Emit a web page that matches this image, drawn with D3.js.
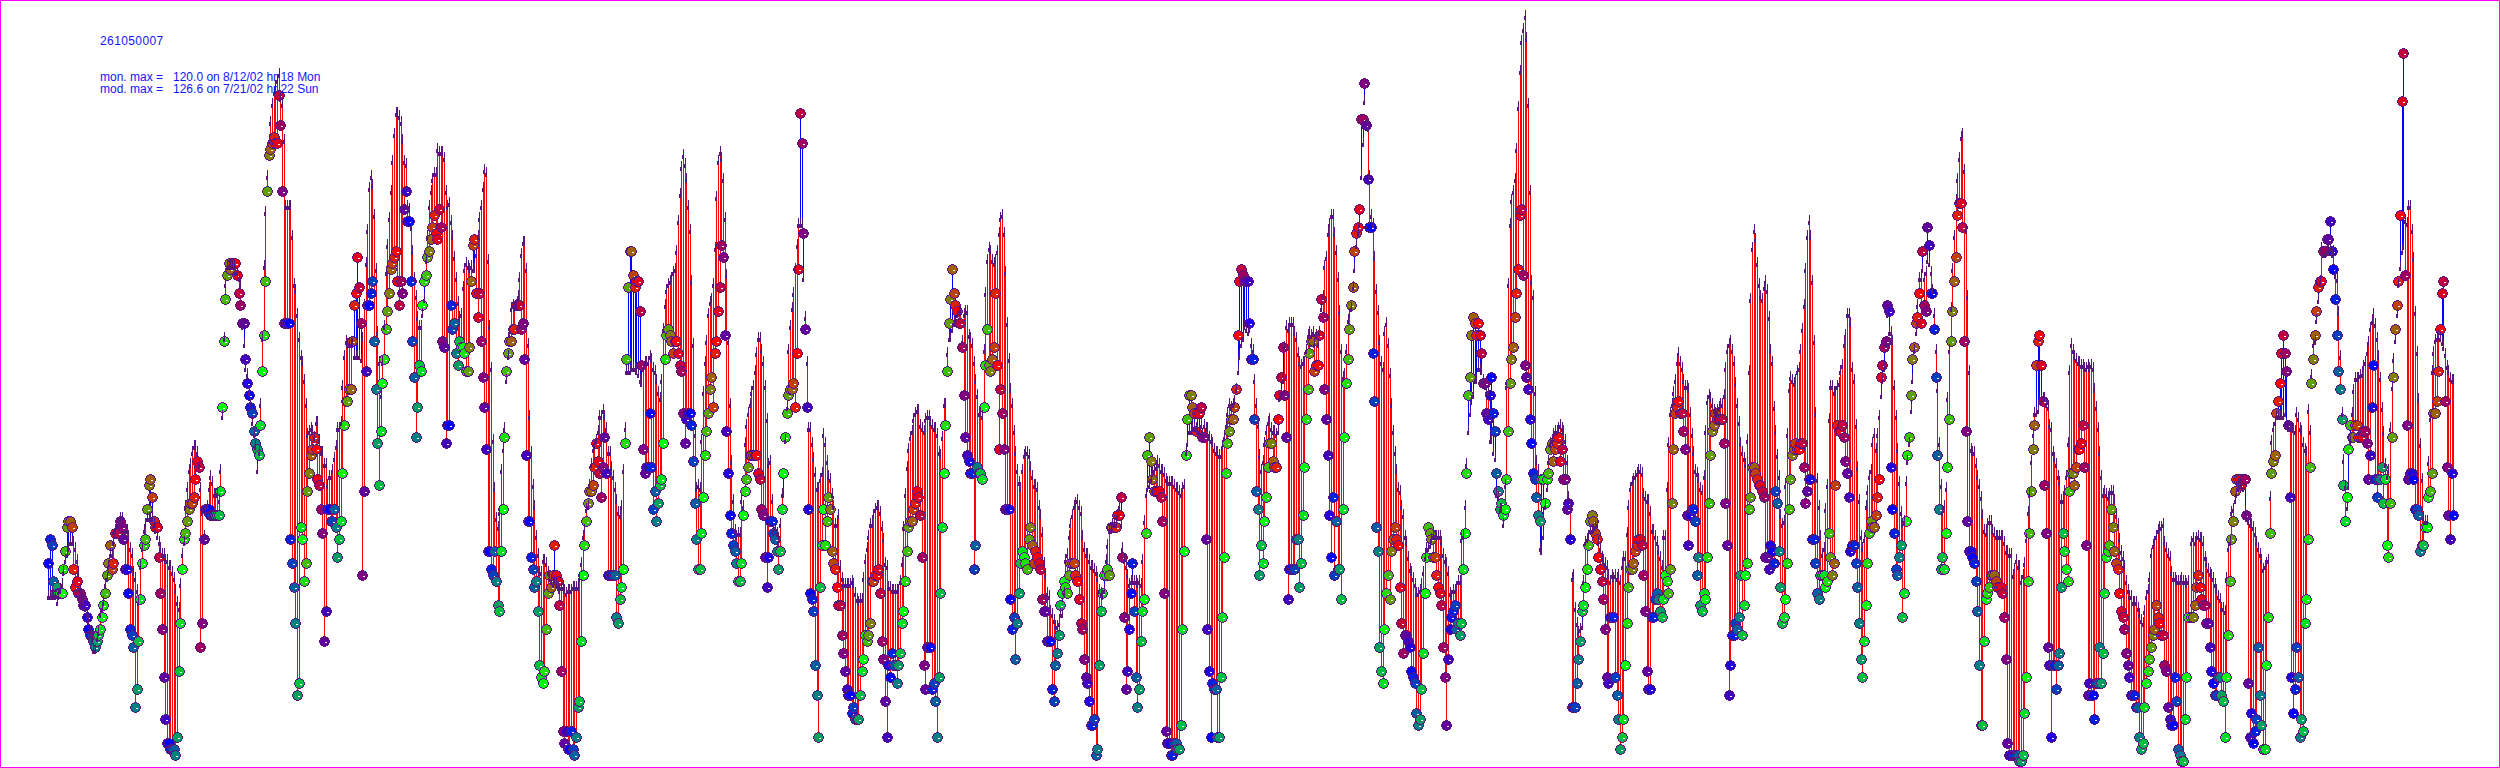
<!DOCTYPE html>
<html>
<head>
<meta charset="utf-8">
<title>261050007</title>
<script src="https://cdn.jsdelivr.net/npm/d3@7"></script>
<style>
  body { margin: 0; background: #fff; }
  svg { display: block; }
  text { font-family: "Liberation Sans", Arial, sans-serif; fill: #1414ff; white-space: pre; }
</style>
</head>
<body>
<svg id="chart" width="2500" height="768"></svg>
<script>
const stationId = '261050007'
const monMaxLabel = 'mon. max =   120.0 on 8/12/02 hr 18 Mon'
const modMaxLabel = 'mod. max =   126.6 on 7/21/02 hr 22 Sun'

// hourly ozone (ppb), one pair of lists per stretch of the season
const firstHour = 2
const stretchStart = [0, 151, 313, 474, 636, 797, 959, 1121, 1283]

const modeled1 = [
  30,30,30,30,30,29,30,31,32,34, 36,37,38,39,39,39,38,36,34,31,
  30,29,28,27,26,24,23,21,21,23, 24,27,28,29,32,33,35,37,37,39,
  41,42,42,43,43,42,41,41,40,38, 37,34,33,31,29,35,38,41,42,43,
  43,43,43,42,41,40,39,38,37,37, 36,36,35,35,34,33,31,29,28,32,
  37,39,45,48,51,52,54,55,55,54, 52,48,44,40,44,45,48,50,49,47,
  47,47,46,51,60,73,82,85,85,85, 85,85,84,84,83,82,75,72,68,67,
  64,62,59,57,55,51,54,62,73,85, 94,100,106,109,112,114,115,116,117,113,
  112,106,95,95,95,95,90,82,81,77, 73
]
const observed1 = [
  35,39,38,32,30,31,30,30,30,34, 37,41,42,42,41,34,31,32,30,30,
  29,28,28,26,24,23,23,22,21,22, 23,24,26,28,30,33,35,38,34,35,
  40,40,40,42,41,39,34,34,30,24, 23,21,11,14,22,29,35,38,39,44,
  48,49,46,42,41,41,36,30,24,16, 9,5,5,4,4,4,3,6,17,25,
  34,39,40,42,44,45,45,46,49,52, 51,21,25,39,44,44,44,43,43,43,
  43,43,43,47,61,72,79,83,85,84, 85,85,85,83,80,78,75,75,69,65,
  63,61,60,57,55,54,53,58,67,73, 82,97,103,104,105,106,105,105,113,108,
  97,75,75,75,75,39,35,31,25,13, 15
]

const modeled2 = [
  70,69,66,62,57,57.5,58,57.5,56.5,59, 59,56,54,54,52,52,48.5,50,50,51,
  53,55,58,58,59,65,70,72.5,72,72, 72,72,70,70,70,70,69.5,73,78.5,85.5,
  91,98,100,98.5,93.5,84.5,74,69,63.5,69, 75,84,88.5,93,97.5,102.5,107,110.5,110.5,110,
  109,106,102.5,102,95,94.5,91.5,87.5,83,80, 76.5,75,75,77,79.5,86,90,95,97.5,99.5,
  100.5,100.5,104.5,104,104,104,103,97.5,95,95.5, 92.5,90,86.5,83,79,76.5,77,81.5,84.5,85.5,
  85,84.5,85,84.5,84.5,87,90,93,95,98, 101,100.5,86,75,68,56,48,43,41.5,44,
  51,54.5,58,66,70,74,78,78.5,78,78.5, 80,83,87,89,89,84.5,72,60,54,48.5,
  45,40,37,34,34,36,36,35.5,34,33, 32.5,32,32.5,32,31.5,31,31.5,31.5,31,30.5,
  31,31
]
const observed2 = [
  41,39,32,35,47,50,53,54,56,54, 49,48,44,40,22,27,44,44,42,42,
  44,41,36,39,42,50,58,62,62,64, 64,72,78,80,86,81,75,33,47,67,
  78,78,80,82,72,64,55,48,57,65, 69,74,77,80,84,85,86,87,82,78,
  82,80,94,97,92,92,82,72,66,56, 61,68,67,78,82,83,86,87,89,91,
  93,90,89,94,91,72,71,55,58,58, 78,74,75,70,68,72,71,71,70,67,
  67,71,82,88,89,80,76,80,72,66, 61,54,37,37,34,33,37,32,28,27,
  37,44,56,67,70,72,72,74,74,78, 78,78,74,75,69,53,42,42,36,34,
  31,32,27,18,16,15,17,24,30,33, 31,33,38,33,32,28,17,7,5,7,
  4,4
]

const modeled3 = [
  31,31.5,31.5,31.5,31.5,33,35.5,40,41,44.5, 45,48.5,52,54.5,55,56,57.5,60,60,61,
  60,58,54,54,51.5,50,48,46,44,43.5, 45,51,58,67.5,67.5,67.5,68,68,68,67.5,
  67,66,65.5,68,69,69,69,70,69.5,68, 67.5,66,64,63,66,74.5,78.5,81,82,82.5,
  83,84,84.5,87.5,92.5,97,101.5,103.5,102,99.5, 95,91,82.5,72,57,48,48.5,48,56,64,
  69,72.5,77,79,79.5,82,88,96.5,102.5,104, 103,99.5,93,83.5,72.5,62,52.5,46,41,40,
  40.5,40.5,46,45,55.5,58.5,60.5,62,64,65, 67.5,70.5,73,73,71,69,65,59.5,52,52.5,
  46,41,41.5,40.5,39,42,47,47,56,61.5, 71,75,78,80.5,84.5,88.5,92,92,92,83,
  76.5,69,58,58,55.5,53,50.5,48,48,49.5, 50.5,57,55.5,52.5,50,49.5,47,45,42,42,
  43.5
]
const observed3 = [
  7,4,3,6,11,12,22,33,38,42, 45,47,47,48,51,55,52,50,46,51,
  56,50,33,33,33,33,33,26,25,29, 31,34,55,69,81,87,87,83,81,82,
  82,77,68,54,50,51,51,60,51,44, 47,42,45,48,49,55,69,73,74,73,
  72,70,72,72,70,68,67,60,55,59, 60,60,58,52,45,39,34,34,40,46,
  53,57,60,64,66,61,70,72,77,81, 88,86,73,57,50,43,40,38,37,35,
  32,32,35,43,47,49,51,53,53,53, 53,53,50,49,44,43,36,31,36,42,
  42,40,39,37,34,37,44,50,56,60, 63,64,64,65,61,70,84,110,105,90,
  74,61,44,30,29,27,18,13,6,31, 38,44,38,42,46,44,37,35,34,31,
  28
]

const modeled4 = [
  35,33,32,32,32,32,32,32.5,32,30.5, 29.5,29,29.5,29.5,33,36,38,40,42,42,
  43.5,44.5,45,45,44,41.5,39.5,35.5,35,31.5, 31.5,31,31,31,31,31,32.5,35.5,41.5,47,
  51.5,54.5,56.5,57.5,59.5,60.5,61,61,58.5,58, 57.5,59.5,60,60,59,58.5,58,58,57,54,
  53.5,56.5,62,62,70.5,73,73,74.5,75.5,75.5, 77,77.5,77.5,72.5,77,77.5,77.5,73.5,73,72,
  69,66,63.5,60.5,60.5,60,71,80.5,86,88, 87.5,86,85.5,86,87.5,90.5,93,93.5,90.5,84,
  75.5,69.5,64.5,62,57.5,54,51,49,48,51, 53.5,54,54,53.5,51.5,50,48.5,48.5,48,45,
  43.5,40.5,35.5,33.5,30.5,30,27.5,27,26,25, 25,25.5,27,27,30.5,36,37,40,42,43.5,
  45,45.5,46,45,44,40,38,37,37,36, 35,35,34.5,34,33,31,30.5,30,31,36,
  38.5,41
]
const observed4 = [
  28,23,20,17,14,13,13,10,11,9, 9,9,13,17,19,23,22,23,25,32,
  32,33,33,34,30,22,19,12,6,18, 16,20,18,18,15,18,20,25,27,32,
  37,41,42,42,44,45,47,46,43,36, 18,14,21,21,21,14,15,12,6,16,
  30,41,50,58,67,75,79,84,80,78, 77,75,75,71,63,56,53,52,50,50,
  34,38,51,50,50,49,61,68,74,68, 67,69,71,80,68,54,64,60,54,44,
  44,44,29,24,26,19,25,30,35,37, 36,35,34,39,41,38,35,37,36,35,
  34,29,27,27,22,22,22,14,12,18, 20,23,28,30,32,31,30,33,35,35,
  35,33,32,29,25,24,19,16,15,12, 8,8,9,3,4,18,27,30,33,33,
  34,33
]

const modeled5 = [
  41,42,42,42,43.5,45,42,38,36,35, 33.5,32,32.5,32.5,32.5,32.5,32,32.5,32,36,
  42.5,47,48,48.5,49.5,50.5,51,51.5,52.5,52, 51,51,50.5,49.5,49,49,49,49,48.5,48,
  48,47.5,47,48,48.5,54,55.5,57.5,57.5,58, 58,58,57.5,57.5,58.5,57,58.5,58,58,56.5,
  56,55.5,54.5,54,54,53.5,53.5,55,56.5,58.5, 60.5,62,61.5,62,62.5,64.5,67.5,70,72,73,
  75,74.5,74,74.5,72,71,66,62,58.5,53.5, 51,52.5,55.5,57.5,59,59.5,58,57.5,57.5,57,
  57.5,63,63.5,66,71.5,75,74.5,75.5,75.5,75.5, 74,73,70.5,69,68.5,69,69,71,73.5,74,
  73.5,74,72,73.5,72,74,78,80,85,86.5, 90.5,92,93.5,93.5,90.5,87.5,83,77.5,71,66.5,
  67,71,76,77,78,81.5,84.5,88.5,90.5,92, 100,105.5,112.5,108.5,108,100,93.5,92,86.5,81,
  77.5
]
const observed5 = [
  41,41,41,41,43,43,46,36,26,14, 17,24,30,35,27,16,11,14,22,27,
  29,40,53,56,52,49,47,47,47,47, 46,42,30,7,5,5,3,3,5,5,
  4,4,8,24,37,53,59,63,63,61, 60,57,60,60,61,56,56,39,24,17,
  6,15,14,14,6,6,16,26,36,50, 55,57,59,59,61,64,73,82,84,83,
  82,82,82,75,69,69,59,47,44,33, 38,35,42,46,51,55,55,52,51,51,
  59,63,66,71,63,56,29,34,34,34, 34,39,39,31,35,43,51,59,64,70,
  72,72,67,68,68,73,79,76,64,59, 53,43,36,46,33,42,34,34,29,44,
  56,65,69,74,78,81,87,90,91,94, 109,109,115,108,99,91,91,70,62,41,
  37
]

const modeled6 = [
  72.5,69,68,74,75.5,72,67,62,57.5,54, 51,48,47.5,45,43.5,40,39,36.5,34.5,34,
  33,32,30.5,30.5,31,32,34,36.5,38,38, 38.5,39.5,40,40,40,40,40,39,37,36,
  35.5,34,30.5,30,31,31,31.5,32.5,32.5,39.5, 40,45,52,57.5,60.5,62.5,63.5,66,66,68,
  68,67.5,66,65,64,64,56,56,54,53, 47,46.5,44.5,44.5,42,48.5,65,82,92,96,
  97.5,99.5,104.5,111.5,117.5,122.5,124.5,126.6,123,112, 97.5,82.5,80,64,52.5,51,38,37.5,40,45,
  48,52.5,55.5,56,57,57.5,57.5,58,58.5,58, 57.5,56,52.5,46.5,45,33,33.5,28,25.5,24,
  24.5,25,32.5,39,39.5,40,41,41,41,41.5, 42,39,38,36.5,36,35.5,35,33.5,32.5,33.5,
  33,33.5,33,33.5,32.5,35,36.5,36.5,40.5,45, 48,49,49.5,50,50.5,51,51,50.5,47,46.5,
  46,46
]
const observed6 = [
  21,17,15,24,30,33,29,37,39,41, 39,38,31,25,20,23,23,22,21,17,
  16,15,10,8,9,14,20,30,36,41, 40,39,36,36,33,31,30,28,21,16,
  8,19,24,26,27,28,24,25,23,25, 34,40,50,63,66,73,76,75,73,75,
  73,70,65,65,60,59,63,66,60,57, 50,47,44,45,43,44,49,57,65,69,
  71,76,80,84,93,94,83,68,66,64, 59,55,50,49,46,43,42,49,49,45,
  49,50,54,55,52,54,55,56,52,54, 49,49,44,45,39,11,11,11,15,19,
  22,27,28,31,34,38,42,43,42,40, 39,36,34,32,29,24,16,15,26,26,
  26,16,13,9,4,6,9,18,25,31, 34,34,35,37,38,39,39,38,33,27,
  17,14
]

const modeled7 = [
  44,41,41,40,39,37.5,36.5,35,40,40, 48,55.5,60.5,62,64,66,69,70.5,69,68,
  66,65,65,64.5,60.5,57,54,51,50.5,49.5, 48,47.5,50,57.5,62.5,63.5,63,62,61,60.5,
  61,61.5,62,62,63.5,68,71,72,72.5,71, 69,65.5,62,59,55.5,54,53,52,56,67.5,
  79.5,88,91,89.5,85.5,82,80,79.5,81.5,82.5, 81,76.5,71,69,61.5,57.5,53.5,50,43.5,42,
  42.5,48.5,57,64.5,66.5,66,65.5,66,67.5,68, 71,74.5,78.5,84.5,90,92.5,90,82.5,72.5,60.5,
  49.5,45,40,37,38,44.5,48.5,59.5,65,65, 64,64,65,65.5,67.5,68.5,72,73.5,77,77,
  75.5,68,66,58.5,51.5,46,40,38,39.5,45, 47.5,50,51,55.5,57,54.5,57,60,63.5,66,
  68,72,77,74,74,72.5,65,60,54.5,49, 44,42,42.5,49,52.5,55.5,61,66,71,74,
  78.5,83
]
const observed7 = [
  14,26,26,29,30,29,27,26,29,33, 32,30,34,45,54,60,61,62,60,60,
  57,54,43,38,43,44,44,42,33,36, 28,27,30,29,36,45,53,57,58,60,
  59,59,59,59,55,45,38,13,18,23, 23,25,24,26,33,23,28,33,35,44,
  46,51,51,50,49,48,48,47,46,36, 36,34,38,37,35,47,45,37,31,25,
  26,29,35,44,49,53,54,55,54,54, 55,55,51,45,47,49,49,39,39,35,
  30,29,33,33,33,31,32,40,36,33, 35,48,58,57,57,58,56,52,50,46,
  37,38,38,35,31,25,19,16,22,28, 35,40,42,41,41,43,46,49,66,68,
  71,72,78,77,51,44,40,34,33,36, 38,26,30,42,53,56,63,69,71,75,
  76,80
]

const modeled8 = [
  83,84.5,83,84,86,85.5,84,81,77,71, 64.5,55.5,48.5,44,45,48,63,71,78,84.5,
  90,96,99.5,103,106.5,107,101,91,80,67.5, 54.5,54,54,52,50,48.5,46.5,43.5,41,40.5,
  42,42.5,42.5,41,40.5,40,40,40,40,40, 39,37.5,37.5,37,37,33.5,34.5,36,35,35,
  32.5,33.5,35.5,39.5,44,47,52.5,57,60.5,60.5, 61,62.5,62.5,63,63,62,61.5,58.5,58,54,
  53,52,50,49,46,46,47.5,50,55.5,67.5, 72,71,70,69.5,69,69,68.5,68.5,68,68,
  68.5,68,68.5,68,64.5,61.5,58,54,50,47, 47.5,47,46.5,47,47.5,47.5,46,43.5,42,39.5,
  37.5,36.5,35,32.5,31,30,30,29,29,29, 28,27,26,25.5,27.5,30,31,33,37,38.5,
  39,40,41,41.5,41.5,42,39,38,37,36.5, 34,33,33,32.5,32.5,32.5,33,32.5,32.5,32,
  32.5
]
const observed8 = [
  75,87,78,77,91,88,80,80,74,66, 53,44,34,36,34,40,51,59,72,77,
  82,86,93,95,95,91,72,57,42,37, 37,36,35,32,27,18,8,8,22,29,
  30,31,33,33,33,32,31,31,31,30, 26,19,5,3,3,3,3,3,3,2,
  2,3,10,16,32,40,47,54,58,68, 72,73,68,62,48,40,21,18,6,18,
  18,14,18,20,31,40,37,34,32,47, 50,50,48,51,54,54,55,58,51,38,
  13,15,13,13,9,15,15,21,15,20, 30,36,37,38,44,41,37,35,34,30,
  27,26,24,20,18,16,13,13,13,11, 11,6,4,5,11,15,17,19,21,23,
  24,28,26,25,23,23,18,17,11,9, 8,8,16,12,4,3,2,2,9,16,
  26
]

const modeled9 = [
  39,39.7,39,39.7,40,39.7,39.7,39,36.5,35.5, 34.5,33.8,33.5,33,32,31,30,29.5,28,28,
  27.5,33,38,39,44,44.5,46,47,48,48.5, 48.5,48,44,43,42.5,42,42,41.5,40.5,39,
  38,37,36,34.5,35,35.5,36,46.5,55.8,58, 59,60,60,60,60,60,60.5,58.5,58,58,
  58,57.8,57.5,60.5,59.7,58,57.5,55.5,54.5,54, 61,57.5,66.8,72,72.5,76,79.3,82.5,88,87,
  87,87.5,87.5,88,87,87.5,83.5,82.8,77.3,70, 60.5,52.7,48.3,44.8,48.3,55.8,60.5,64.4,66.4,66.4,
  66.4,66.8,67,68.3,69,70.7,72.3,74.6,75.8,77, 75.4,73,70,66.4,61.3,57.4,52,50,51,58,
  64.8,69.5,72.6,77,82,84.8,87.5,88.3,92.6,92.2, 95,95,91,86.4,77.4,70.7,62.8,55.4,49.5,43.2,
  42.5,42.5,52.3,59.7,67.5,70.7,72.6,73,73.4,73, 72.3,71.5,70.3,68.3,67.5,66.4,66,66
]
const observed9 = [
  26,26,28,31,33,31,29,28,28,25, 25,21,17,15,13,13,16,16,13,12,
  6,16,23,32,39,42,47,49,49,49, 48,49,49,43,15,6,10,5,7,9,
  21,13,8,4,4,18,26,40,50,52, 53,60,62,65,70,73,70,67,58,46,
  16,10,14,21,16,6,9,7,25,29, 39,51,65,69,73,77,81,82,82,87,
  87,89,89,92,87,84,79,73,67,64, 59,48,42,46,54,58,56,56,58,58,
  56,56,56,57,57,55,49,53,61,68, 49,46,49,49,51,45,49,38,36,45,
  56,66,74,78,82,93,112,120,83,58, 49,50,50,49,44,44,43,37,38,38,
  41,41,46,47,50,60,60,62,67,74, 80,82,62,51,43,39,50,43
]

const modeledParts = [modeled1, modeled2, modeled3, modeled4, modeled5, modeled6, modeled7, modeled8, modeled9]
const observedParts = [observed1, observed2, observed3, observed4, observed5, observed6, observed7, observed8, observed9]

let points = []
modeledParts.forEach((part, p) => {
  part.forEach((mod, k) => {
    let index = stretchStart[p] + k
    points.push({ index: index, hour: (firstHour + index) % 24, mod: mod, obs: observedParts[p][k] })
  })
})

const width = 2500
const height = 768
const outline = '#5a1480'

const x = d3.scaleLinear().domain([0, 1408]).range([48.3, 2400])
const y = d3.scaleLinear().domain([0, 120]).range([773, 53])
// red at hour 18, blue at hour 2, green at hour 10
const hourColor = d3.scaleLinear()
  .domain([18, 26, 34, 42])
  .range(['#ff0000', '#0000ff', '#00ff00', '#ff0000'])

const px = d => Math.round(x(d.index)) + 0.5
const py = v => Math.round(y(v)) + 0.5

const svg = d3.select('#chart')

svg.append('rect')
  .attr('x', 0.5).attr('y', 0.5)
  .attr('width', width - 1).attr('height', height - 1)
  .attr('fill', '#fff').attr('stroke', '#ff00ff')

// line from the observation to the foot of the model mark
svg.append('g').attr('shape-rendering', 'crispEdges')
  .selectAll('line').data(points)
  .enter().append('line')
  .attr('x1', px).attr('x2', px)
  .attr('y1', d => py(d.obs))
  .attr('y2', d => py(d.mod) + 6)
  .attr('stroke', d => d.obs >= d.mod ? '#0000ff' : '#ff0000')

// observed circles, coloured by hour of day
let dots = svg.append('g').selectAll('g').data(points)
  .enter().append('g')
  .attr('transform', d => `translate(${px(d)},${py(d.obs)})`)
dots.append('circle')
  .attr('r', 4.8)
  .attr('fill', d => hourColor(d.hour < 18 ? d.hour + 24 : d.hour))
  .attr('stroke', outline)
  .attr('shape-rendering', 'crispEdges')
dots.append('rect')
  .attr('x', 0).attr('y', 0)
  .attr('width', 2).attr('height', 1)
  .attr('fill', '#fff')
  .attr('shape-rendering', 'crispEdges')

// model marks
svg.append('g').attr('shape-rendering', 'crispEdges')
  .selectAll('path').data(points)
  .enter().append('path')
  .attr('d', d => `M${px(d)},${py(d.mod) - 4}V${py(d.mod) + 6}M${px(d) - 1},${py(d.mod) + 2}V${py(d.mod) + 6}`)
  .attr('fill', 'none')
  .attr('stroke', outline)

const labels = svg.append('g').style('font-size', '12px')
labels.append('text').attr('x', 100).attr('y', 45).style('letter-spacing', '0.4px').text(stationId)
labels.append('text').attr('x', 100).attr('y', 81).text(monMaxLabel)
labels.append('text').attr('x', 100).attr('y', 93).text(modMaxLabel)
</script>
</body>
</html>
